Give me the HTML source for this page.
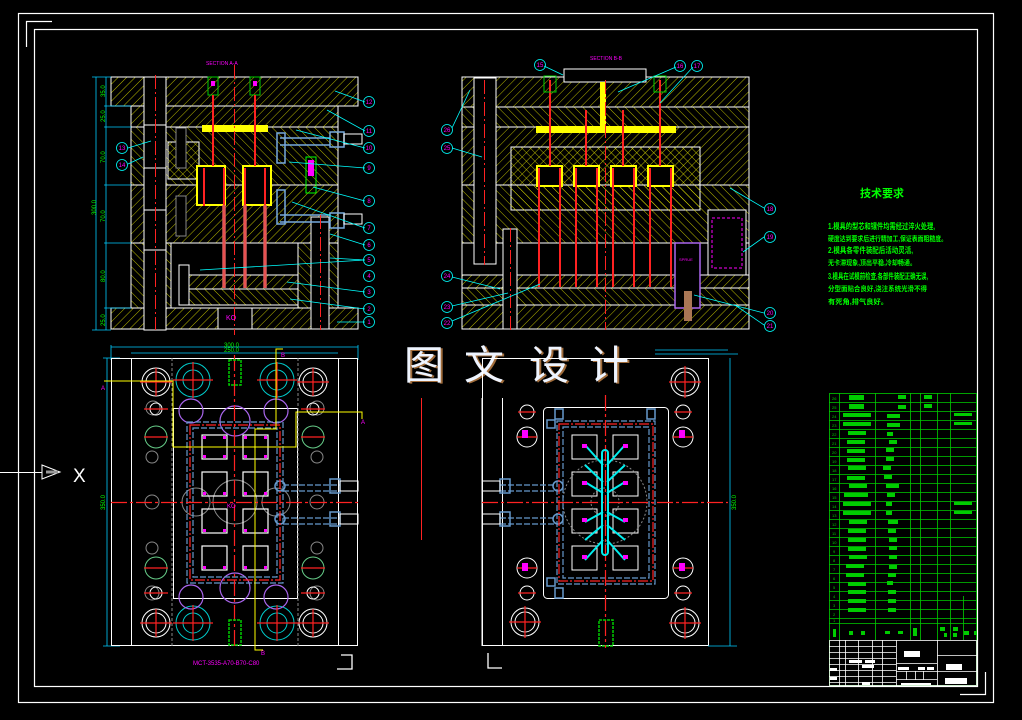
<!DOCTYPE html>
<html><head><meta charset="utf-8">
<style>
html,body{margin:0;padding:0;background:#000;}
svg{display:block;}
text{font-family:"Liberation Sans","Noto Sans CJK SC",sans-serif;}
</style></head>
<body>
<svg width="1022" height="720" viewBox="0 0 1022 720" xmlns="http://www.w3.org/2000/svg">
<defs>
<pattern id="h" width="6" height="6" patternUnits="userSpaceOnUse" patternTransform="rotate(45)">
<line x1="0" y1="0" x2="0" y2="6" stroke="#e8e800" stroke-width="0.8"/>
</pattern>
<pattern id="h2" width="6" height="6" patternUnits="userSpaceOnUse" patternTransform="rotate(-45)">
<line x1="0" y1="0" x2="0" y2="6" stroke="#e8e800" stroke-width="0.8"/>
</pattern>
</defs>
<rect width="1022" height="720" fill="#000"/>
<!-- frames -->
<rect x="18.5" y="13.5" width="975" height="689" fill="none" stroke="#fff" stroke-width="1.2"/>
<rect x="34.5" y="29.5" width="943" height="657" fill="none" stroke="#fff" stroke-width="1.2"/>
<polyline points="26.5,47 26.5,21.5 52,21.5" fill="none" stroke="#fff" stroke-width="1.2"/>
<polyline points="985.5,672 985.5,694.5 960,694.5" fill="none" stroke="#fff" stroke-width="1.2"/>
<!-- X arrow -->
<line x1="0" y1="472.5" x2="42" y2="472.5" stroke="#fff"/>
<polygon points="42,465 60,472 42,479" fill="none" stroke="#fff"/>
<line x1="46" y1="472" x2="58" y2="472" stroke="#999" stroke-width="3"/>
<text x="73" y="482" fill="#fff" font-size="19">X</text>

<!-- ============ TOP LEFT SECTION ============ -->
<text x="206" y="65" fill="#f0f" font-size="5">SECTION A-A</text>
<g stroke="#fff" stroke-width="1">
<rect x="111" y="77" width="247" height="29" fill="url(#h)"/>
<rect x="131" y="106" width="207" height="21" fill="url(#h)"/>
<rect x="131" y="127" width="207" height="58" fill="url(#h2)"/>
<rect x="131" y="185" width="207" height="58" fill="url(#h)"/>
<rect x="131" y="243" width="40" height="65" fill="url(#h2)"/>
<rect x="298" y="243" width="40" height="65" fill="url(#h2)"/>
<rect x="171" y="243" width="127" height="65" fill="#000"/>
<rect x="182" y="275" width="116" height="14" fill="url(#h)"/>
<rect x="182" y="289" width="116" height="16" fill="url(#h2)"/>
<rect x="111" y="308" width="247" height="21" fill="url(#h)"/>
<rect x="218" y="308" width="34" height="21" fill="#000"/>
<rect x="144" y="77" width="22" height="253" fill="#000"/>
<line x1="144" y1="125" x2="166" y2="125"/><line x1="144" y1="168" x2="166" y2="168"/>
<line x1="144" y1="210" x2="166" y2="210"/><line x1="144" y1="250" x2="166" y2="250"/>
<rect x="311" y="217" width="18" height="112" fill="#000"/>
<rect x="168" y="142" width="31" height="37" fill="url(#h)"/>
<rect x="197" y="166" width="28" height="39" fill="#000" stroke="#ff0" stroke-width="2"/>
<rect x="243" y="166" width="28" height="39" fill="#000" stroke="#ff0" stroke-width="2"/>
<rect x="176" y="128" width="10" height="40" fill="#000" stroke="#888"/>
<rect x="176" y="196" width="10" height="40" fill="#000" stroke="#888"/>
<rect x="179" y="265" width="10" height="40" fill="#000"/>
</g>
<rect x="202" y="125" width="66" height="7" fill="#ff0"/>
<rect x="208" y="77" width="10" height="18" fill="none" stroke="#0c0"/>
<rect x="250" y="77" width="10" height="18" fill="none" stroke="#0c0"/>
<rect x="211" y="81" width="4" height="5" fill="#f0f"/><rect x="253" y="81" width="4" height="5" fill="#f0f"/>
<g stroke="#f22" stroke-width="2">
<line x1="213" y1="95" x2="213" y2="166"/><line x1="255" y1="95" x2="255" y2="166"/>
<line x1="204" y1="168" x2="204" y2="206"/><line x1="224" y1="168" x2="224" y2="288"/>
<line x1="245" y1="168" x2="245" y2="288"/><line x1="265" y1="168" x2="265" y2="288"/>
</g>
<g stroke="#d66" stroke-width="4" opacity="0.7">
<line x1="224" y1="205" x2="224" y2="288"/><line x1="245" y1="205" x2="245" y2="288"/><line x1="265" y1="205" x2="265" y2="288"/>
</g>
<g stroke="#7ad" stroke-width="1.5" fill="none">
<rect x="277" y="133" width="8" height="30"/><line x1="280" y1="138" x2="330" y2="138"/><line x1="280" y1="145" x2="330" y2="145"/>
<rect x="277" y="190" width="8" height="34"/><line x1="280" y1="215" x2="330" y2="215"/><line x1="280" y1="222" x2="330" y2="222"/>
<rect x="330" y="132" width="14" height="15"/><rect x="330" y="213" width="14" height="15"/>
</g>
<g stroke="#fff" fill="none"><rect x="344" y="134" width="18" height="10"/><rect x="344" y="214" width="18" height="10"/></g>
<rect x="306" y="157" width="10" height="36" fill="none" stroke="#0f0"/>
<rect x="308" y="160" width="6" height="16" fill="#f0f"/>
<line x1="234.5" y1="65" x2="234.5" y2="335" stroke="#f22" stroke-dasharray="14,3,2,3"/>
<line x1="155.5" y1="75" x2="155.5" y2="330" stroke="#f22" stroke-dasharray="14,3,2,3"/>
<line x1="320.5" y1="215" x2="320.5" y2="330" stroke="#f22" stroke-dasharray="14,3,2,3"/>
<text x="226" y="320" fill="#f0f" font-size="7">KO</text>
<!-- dims -->
<g stroke="#0cf" stroke-width="0.8">
<line x1="96" y1="77" x2="96" y2="330"/>
<line x1="92" y1="77" x2="111" y2="77"/><line x1="104" y1="106" x2="131" y2="106"/><line x1="104" y1="127" x2="131" y2="127"/>
<line x1="104" y1="185" x2="131" y2="185"/><line x1="104" y1="243" x2="131" y2="243"/><line x1="104" y1="308" x2="131" y2="308"/>
<line x1="92" y1="330" x2="111" y2="330"/><line x1="106" y1="77" x2="106" y2="330"/>
</g>
<g fill="#0f0" font-size="6">
<text transform="translate(105,97) rotate(-90)">35.0</text>
<text transform="translate(105,122) rotate(-90)">25.0</text>
<text transform="translate(105,163) rotate(-90)">70.0</text>
<text transform="translate(105,222) rotate(-90)">70.0</text>
<text transform="translate(105,282) rotate(-90)">80.0</text>
<text transform="translate(105,326) rotate(-90)">25.0</text>
<text transform="translate(96,215) rotate(-90)">300.0</text>
</g>
<!-- balloons left section -->
<g stroke="#0ff" stroke-width="0.8" fill="none">
<line x1="335" y1="91" x2="365" y2="102"/><line x1="327" y1="110" x2="365" y2="131"/>
<line x1="296" y1="130" x2="365" y2="148"/><line x1="289" y1="162" x2="365" y2="168"/>
<line x1="313" y1="187" x2="365" y2="201"/><line x1="292" y1="202" x2="365" y2="228"/>
<line x1="330" y1="234" x2="365" y2="245"/><line x1="330" y1="258" x2="365" y2="260"/>
<line x1="200" y1="270" x2="365" y2="260"/><line x1="287" y1="282" x2="365" y2="292"/><line x1="290" y1="299" x2="365" y2="309"/>
<line x1="337" y1="322" x2="365" y2="322"/>
<line x1="151" y1="141" x2="128" y2="148"/><line x1="143" y1="157" x2="128" y2="164"/>
<circle cx="369" cy="102" r="5.5"/><circle cx="369" cy="131" r="5.5"/><circle cx="369" cy="148" r="5.5"/>
<circle cx="369" cy="168" r="5.5"/><circle cx="369" cy="201" r="5.5"/><circle cx="369" cy="228" r="5.5"/>
<circle cx="369" cy="245" r="5.5"/><circle cx="369" cy="260" r="5.5"/><circle cx="369" cy="276" r="5.5"/>
<circle cx="369" cy="292" r="5.5"/><circle cx="369" cy="309" r="5.5"/><circle cx="369" cy="322" r="5.5"/>
<circle cx="122" cy="148" r="5.5"/><circle cx="122" cy="165" r="5.5"/>
</g>
<g fill="#f0f" font-size="6" text-anchor="middle">
<text x="369" y="104">12</text><text x="369" y="133">11</text><text x="369" y="150">10</text><text x="369" y="170">9</text>
<text x="369" y="203">8</text><text x="369" y="230">7</text><text x="369" y="247">6</text><text x="369" y="262">5</text>
<text x="369" y="278">4</text><text x="369" y="294">3</text><text x="369" y="311">2</text><text x="369" y="324">1</text>
<text x="122" y="150">13</text><text x="122" y="167">14</text>
</g>

<!-- ============ TOP RIGHT SECTION ============ -->
<text x="590" y="60" fill="#f0f" font-size="5">SECTION B-B</text>
<g stroke="#fff" stroke-width="1">
<rect x="462" y="77" width="287" height="30" fill="url(#h)"/>
<rect x="462" y="107" width="287" height="20" fill="url(#h2)"/>
<rect x="462" y="127" width="287" height="58" fill="url(#h)"/>
<rect x="511" y="147" width="189" height="63" fill="url(#h2)"/>
<rect x="462" y="185" width="287" height="58" fill="url(#h2)"/>
<rect x="462" y="243" width="287" height="32" fill="#000"/>
<rect x="462" y="275" width="287" height="13" fill="url(#h)"/>
<rect x="462" y="288" width="287" height="17" fill="url(#h2)"/>
<rect x="462" y="305" width="287" height="24" fill="url(#h)"/>
<rect x="564" y="69" width="82" height="13" fill="#000"/>
<rect x="474" y="78" width="22" height="186" fill="#000"/>
<rect x="503" y="229" width="14" height="100" fill="#000"/>
<rect x="708" y="210" width="38" height="65" fill="#000"/>
<rect x="537" y="166" width="25" height="20" fill="#000" stroke="#ff0" stroke-width="2"/>
<rect x="574" y="166" width="25" height="20" fill="#000" stroke="#ff0" stroke-width="2"/>
<rect x="611" y="166" width="25" height="20" fill="#000" stroke="#ff0" stroke-width="2"/>
<rect x="648" y="166" width="25" height="20" fill="#000" stroke="#ff0" stroke-width="2"/>
</g>
<rect x="675" y="243" width="25" height="65" fill="#000" stroke="#a6e" stroke-width="1.5"/>
<text x="679" y="261" fill="#f0f" font-size="4">SPRUE</text>
<rect x="712" y="218" width="30" height="50" fill="none" stroke="#f0f" stroke-dasharray="3,2"/>
<rect x="536" y="126" width="140" height="7" fill="#ff0"/>
<rect x="600" y="82" width="6" height="46" fill="#ff0"/>
<g stroke="#f22" stroke-width="2">
<line x1="550" y1="80" x2="550" y2="166"/><line x1="586" y1="110" x2="586" y2="166"/><line x1="623" y1="110" x2="623" y2="166"/><line x1="660" y1="80" x2="660" y2="166"/>
<line x1="539" y1="168" x2="539" y2="287"/><line x1="560" y1="168" x2="560" y2="287"/>
<line x1="576" y1="168" x2="576" y2="287"/><line x1="597" y1="168" x2="597" y2="287"/>
<line x1="613" y1="168" x2="613" y2="287"/><line x1="634" y1="168" x2="634" y2="287"/>
<line x1="650" y1="168" x2="650" y2="287"/><line x1="671" y1="168" x2="671" y2="287"/>
</g>
<line x1="605.5" y1="80" x2="605.5" y2="330" stroke="#f22" stroke-dasharray="14,3,2,3"/>
<line x1="484.5" y1="80" x2="484.5" y2="265" stroke="#f22" stroke-dasharray="14,3,2,3"/>
<line x1="510.5" y1="228" x2="510.5" y2="330" stroke="#f22" stroke-dasharray="14,3,2,3"/>
<rect x="544" y="76" width="12" height="16" fill="none" stroke="#0c0"/><rect x="654" y="76" width="12" height="16" fill="none" stroke="#0c0"/>
<rect x="684" y="291" width="8" height="30" fill="#a75"/>
<g stroke="#0ff" stroke-width="0.8" fill="none">
<line x1="470" y1="90" x2="452" y2="128"/><line x1="482" y1="157" x2="452" y2="148"/>
<line x1="500" y1="289" x2="452" y2="277"/><line x1="508" y1="293" x2="452" y2="306"/><line x1="540" y1="284" x2="452" y2="321"/>
<line x1="563" y1="75" x2="544" y2="66"/><line x1="618" y1="92" x2="676" y2="67"/><line x1="660" y1="103" x2="693" y2="67"/>
<line x1="730" y1="188" x2="764" y2="208"/><line x1="743" y1="252" x2="764" y2="237"/>
<line x1="694" y1="295" x2="764" y2="313"/><line x1="735" y1="305" x2="764" y2="325"/>
<circle cx="447" cy="130" r="5.5"/><circle cx="447" cy="148" r="5.5"/><circle cx="447" cy="276" r="5.5"/>
<circle cx="447" cy="307" r="5.5"/><circle cx="447" cy="323" r="5.5"/>
<circle cx="540" cy="65" r="5.5"/><circle cx="680" cy="66" r="5.5"/><circle cx="697" cy="66" r="5.5"/>
<circle cx="770" cy="209" r="5.5"/><circle cx="770" cy="237" r="5.5"/><circle cx="770" cy="313" r="5.5"/><circle cx="770" cy="326" r="5.5"/>
</g>
<g fill="#f0f" font-size="6" text-anchor="middle">
<text x="447" y="132">26</text><text x="447" y="150">25</text><text x="447" y="278">24</text><text x="447" y="309">23</text><text x="447" y="325">22</text>
<text x="540" y="67">15</text><text x="680" y="68">16</text><text x="697" y="68">17</text>
<text x="770" y="211">18</text><text x="770" y="239">19</text><text x="770" y="315">20</text><text x="770" y="328">21</text>
</g>

<!-- ============ TECH REQUIREMENTS ============ -->
<g fill="#0f0" font-weight="bold" font-family="'Liberation Sans','Noto Sans CJK SC',sans-serif">
<text x="860" y="197" font-size="11">技术要求</text>
<text x="828" y="229" font-size="8" textLength="107" lengthAdjust="spacingAndGlyphs">1.模具的型芯和镶件均需经过淬火处理,</text>
<text x="828" y="241" font-size="7" textLength="119" lengthAdjust="spacingAndGlyphs">硬度达到要求后进行精加工,保证表面粗糙度。</text>
<text x="828" y="253" font-size="8" textLength="85" lengthAdjust="spacingAndGlyphs">2.模具各零件装配后活动灵活,</text>
<text x="828" y="265" font-size="7" textLength="88" lengthAdjust="spacingAndGlyphs">无卡滞现象,顶出平稳,冷却畅通。</text>
<text x="828" y="279" font-size="8" textLength="100" lengthAdjust="spacingAndGlyphs">3.模具在试模前检查,各部件装配正确无误,</text>
<text x="828" y="291" font-size="7" textLength="99" lengthAdjust="spacingAndGlyphs">分型面贴合良好,浇注系统光滑不得</text>
<text x="828" y="304" font-size="7" textLength="60" lengthAdjust="spacingAndGlyphs">有死角,排气良好。</text>
</g>

<!-- ============ WATERMARK ============ -->
<g font-family="'Noto Serif CJK SC','Liberation Serif',serif" font-size="40">
<text x="406" y="380" fill="#c8884a" opacity="0.8">图</text><text x="466" y="380" fill="#c8884a" opacity="0.8">文</text>
<text x="531" y="380" fill="#c8884a" opacity="0.8">设</text><text x="591" y="380" fill="#c8884a" opacity="0.8">计</text>
<text x="404" y="379" fill="#eef4ff">图</text><text x="464" y="379" fill="#eef4ff">文</text>
<text x="529" y="379" fill="#eef4ff">设</text><text x="589" y="379" fill="#eef4ff">计</text>
</g>

<!-- ============ BOTTOM LEFT PLAN ============ -->
<g stroke="#0cf" stroke-width="0.8" fill="none">
<line x1="111" y1="347" x2="358" y2="347"/><line x1="131" y1="353" x2="338" y2="353"/>
<line x1="111" y1="345" x2="111" y2="360"/><line x1="358" y1="345" x2="358" y2="360"/>
<line x1="107" y1="358" x2="107" y2="646"/><line x1="103" y1="358" x2="120" y2="358"/><line x1="103" y1="646" x2="120" y2="646"/>
</g>
<text x="224" y="347" fill="#0f0" font-size="6">300.0</text><text x="224" y="352" fill="#0f0" font-size="6">250.0</text>
<text transform="translate(105,510) rotate(-90)" fill="#0f0" font-size="6">350.0</text>
<g stroke="#fff" fill="none" stroke-width="1">
<rect x="111.5" y="358.5" width="246" height="287"/>
<line x1="131.5" y1="358" x2="131.5" y2="646"/><line x1="338.5" y1="358" x2="338.5" y2="646"/>
<rect x="173.5" y="408.5" width="124" height="190"/>
<circle cx="156" cy="382" r="14"/><circle cx="156" cy="382" r="10"/>
<circle cx="313" cy="382" r="14"/><circle cx="313" cy="382" r="10"/>
<circle cx="156" cy="623" r="14"/><circle cx="156" cy="623" r="10"/>
<circle cx="313" cy="623" r="14"/><circle cx="313" cy="623" r="10"/>
</g>
<g stroke="#888" fill="none" stroke-dasharray="3,2"><line x1="172" y1="358" x2="172" y2="646"/><line x1="298" y1="358" x2="298" y2="646"/></g>
<g stroke="#0cc" fill="none" stroke-width="1">
<circle cx="193" cy="380" r="17"/><circle cx="193" cy="380" r="10"/>
<circle cx="277" cy="380" r="17"/><circle cx="277" cy="380" r="10"/>
<circle cx="193" cy="623" r="17"/><circle cx="193" cy="623" r="10"/>
<circle cx="277" cy="623" r="17"/><circle cx="277" cy="623" r="10"/>
</g>
<g stroke="#a6e" fill="none" stroke-width="1.2">
<circle cx="191" cy="411" r="12"/><circle cx="276" cy="411" r="12"/><circle cx="191" cy="597" r="12"/><circle cx="276" cy="597" r="12"/>
<circle cx="235" cy="421" r="15"/><circle cx="235" cy="588" r="15"/>
</g>
<g stroke="#888" fill="none">
<circle cx="153" cy="408" r="7"/><circle cx="152" cy="457" r="6"/><circle cx="152" cy="502" r="7"/><circle cx="152" cy="548" r="6"/><circle cx="152" cy="593" r="7"/>
<circle cx="317" cy="408" r="7"/><circle cx="317" cy="457" r="6"/><circle cx="317" cy="502" r="7"/><circle cx="317" cy="548" r="6"/><circle cx="317" cy="593" r="7"/>
<circle cx="196" cy="502" r="14"/><circle cx="276" cy="502" r="14"/><circle cx="235" cy="502" r="22"/>
</g>
<g stroke="#6c8" fill="none"><circle cx="156" cy="437" r="11"/><circle cx="313" cy="437" r="11"/><circle cx="156" cy="568" r="11"/><circle cx="313" cy="568" r="11"/></g>
<g stroke="#fff" fill="none"><circle cx="156" cy="409" r="6"/><circle cx="313" cy="409" r="6"/><circle cx="156" cy="593" r="6"/><circle cx="313" cy="593" r="6"/></g>
<g stroke="#69c" fill="none" stroke-width="1.2" stroke-dasharray="6,2">
<rect x="187" y="422" width="96" height="161"/><rect x="193" y="428" width="84" height="149"/>
<line x1="283" y1="485" x2="340" y2="485"/><line x1="283" y1="491" x2="340" y2="491"/>
<line x1="283" y1="518" x2="340" y2="518"/><line x1="283" y1="524" x2="340" y2="524"/>
</g>
<g stroke="#69c" fill="none" stroke-width="1.5"><circle cx="280" cy="486" r="5"/><circle cx="280" cy="519" r="5"/>
<rect x="330" y="479" width="10" height="14"/><rect x="330" y="512" width="10" height="14"/></g>
<g stroke="#fff" fill="none"><rect x="340" y="481" width="18" height="10"/><rect x="340" y="514" width="18" height="10"/></g>
<g stroke="#f22" stroke-width="1.2" fill="none">
<rect x="190" y="425" width="90" height="155" stroke-dasharray="10,2,2,2"/>
<line x1="111" y1="502.5" x2="358" y2="502.5" stroke-dasharray="16,3,3,3"/>
<line x1="234.5" y1="355" x2="234.5" y2="648" stroke-dasharray="16,3,3,3"/>
<line x1="140" y1="382" x2="172" y2="382"/><line x1="156" y1="368" x2="156" y2="396"/>
<line x1="297" y1="382" x2="329" y2="382"/><line x1="313" y1="368" x2="313" y2="396"/>
<line x1="140" y1="623" x2="172" y2="623"/><line x1="156" y1="609" x2="156" y2="637"/>
<line x1="297" y1="623" x2="329" y2="623"/><line x1="313" y1="609" x2="313" y2="637"/>
<line x1="173" y1="380" x2="213" y2="380"/><line x1="193" y1="362" x2="193" y2="398"/>
<line x1="257" y1="380" x2="297" y2="380"/><line x1="277" y1="362" x2="277" y2="398"/>
<line x1="173" y1="623" x2="213" y2="623"/><line x1="193" y1="605" x2="193" y2="641"/>
<line x1="257" y1="623" x2="297" y2="623"/><line x1="277" y1="605" x2="277" y2="641"/>
<line x1="144" y1="409" x2="168" y2="409"/><line x1="301" y1="409" x2="325" y2="409"/>
<line x1="144" y1="593" x2="168" y2="593"/><line x1="301" y1="593" x2="325" y2="593"/>
<line x1="144" y1="437" x2="168" y2="437"/><line x1="301" y1="437" x2="325" y2="437"/>
<line x1="144" y1="568" x2="168" y2="568"/><line x1="301" y1="568" x2="325" y2="568"/>
</g>
<g stroke="#fff" fill="none" stroke-width="1.2">
<rect x="202" y="435" width="25" height="24"/><rect x="243" y="435" width="25" height="24"/>
<rect x="202" y="472" width="25" height="24"/><rect x="243" y="472" width="25" height="24"/>
<rect x="202" y="509" width="25" height="24"/><rect x="243" y="509" width="25" height="24"/>
<rect x="202" y="546" width="25" height="24"/><rect x="243" y="546" width="25" height="24"/>
</g>
<g fill="#f0f">
<rect x="203" y="436" width="3" height="3"/><rect x="223" y="436" width="3" height="3"/><rect x="203" y="455" width="3" height="3"/><rect x="223" y="455" width="3" height="3"/>
<rect x="244" y="436" width="3" height="3"/><rect x="264" y="436" width="3" height="3"/><rect x="244" y="455" width="3" height="3"/><rect x="264" y="455" width="3" height="3"/>
<rect x="203" y="492" width="3" height="3"/><rect x="223" y="492" width="3" height="3"/><rect x="244" y="492" width="3" height="3"/><rect x="264" y="492" width="3" height="3"/>
<rect x="203" y="529" width="3" height="3"/><rect x="223" y="529" width="3" height="3"/><rect x="244" y="529" width="3" height="3"/><rect x="264" y="529" width="3" height="3"/>
<rect x="203" y="566" width="3" height="3"/><rect x="223" y="566" width="3" height="3"/><rect x="244" y="566" width="3" height="3"/><rect x="264" y="566" width="3" height="3"/>
</g>
<g stroke="#0c0" fill="none" stroke-width="1.5" stroke-dasharray="3,1"><rect x="229" y="360" width="12" height="25"/><rect x="229" y="620" width="12" height="25"/></g>
<g stroke="#ff0" fill="none" stroke-width="1">
<polyline points="104,381 173,381 173,447 296,447 296,412 362,412 362,419"/>
<polyline points="283,349 276,349 276,429 255,429 255,430 255,650 263,650"/>
</g>
<g fill="#f0f" font-size="6"><text x="101" y="390">A</text><text x="361" y="424">A</text><text x="281" y="357">B</text><text x="261" y="655">B</text><text x="227" y="508">KO</text></g>
<text x="193" y="665" fill="#f0f" font-size="6">MCT-3535-A70-B70-C80</text>
<polyline points="341,655 352,655 352,669 337,669" fill="none" stroke="#fff" stroke-width="1.3"/>

<!-- ============ BOTTOM RIGHT PLAN ============ -->
<g stroke="#fff" fill="none" stroke-width="1">
<rect x="482.5" y="358.5" width="226" height="287"/>
<line x1="502.5" y1="398" x2="502.5" y2="646"/>
<line x1="482" y1="398" x2="482" y2="646"/>
<rect x="543.5" y="407.5" width="125" height="191" rx="4"/>
<circle cx="685" cy="382" r="14"/><circle cx="685" cy="382" r="10"/>
<circle cx="685" cy="623" r="14"/><circle cx="685" cy="623" r="10"/>
<circle cx="525" cy="622" r="14"/><circle cx="525" cy="622" r="10"/>
<circle cx="527" cy="437" r="10"/><circle cx="683" cy="437" r="10"/><circle cx="527" cy="568" r="10"/><circle cx="683" cy="568" r="10"/>
<circle cx="527" cy="412" r="7"/><circle cx="683" cy="412" r="7"/><circle cx="527" cy="593" r="7"/><circle cx="683" cy="593" r="7"/>
<rect x="572" y="435" width="25" height="24"/><rect x="613" y="435" width="25" height="24"/>
<rect x="572" y="472" width="25" height="24"/><rect x="613" y="472" width="25" height="24"/>
<rect x="572" y="509" width="25" height="24"/><rect x="613" y="509" width="25" height="24"/>
<rect x="572" y="546" width="25" height="24"/><rect x="613" y="546" width="25" height="24"/>
</g>
<g stroke="#0cf" fill="none" stroke-width="0.8"><line x1="655" y1="350" x2="728" y2="350"/><line x1="655" y1="354" x2="738" y2="354"/><line x1="730" y1="358" x2="730" y2="646"/><line x1="708" y1="646" x2="737" y2="646"/></g>
<text transform="translate(736,510) rotate(-90)" fill="#0f0" font-size="6">350.0</text>
<g stroke="#888" fill="none" stroke-dasharray="2,2"><circle cx="605" cy="502" r="42"/><circle cx="605" cy="502" r="14"/></g>
<g stroke="#69c" fill="none" stroke-width="1.2" stroke-dasharray="6,2">
<rect x="557" y="421" width="98" height="163"/><rect x="563" y="427" width="86" height="151"/>
<line x1="500" y1="485" x2="556" y2="485"/><line x1="500" y1="491" x2="556" y2="491"/>
<line x1="500" y1="518" x2="556" y2="518"/><line x1="500" y1="524" x2="556" y2="524"/>
</g>
<g stroke="#69c" fill="none" stroke-width="1.5"><circle cx="558" cy="486" r="5"/><circle cx="558" cy="519" r="5"/>
<rect x="500" y="479" width="10" height="14"/><rect x="500" y="512" width="10" height="14"/>
<rect x="555" y="409" width="8" height="10"/><rect x="647" y="409" width="8" height="10"/><rect x="555" y="588" width="8" height="10"/><rect x="547" y="420" width="8" height="8"/><rect x="547" y="578" width="8" height="8"/></g>
<g stroke="#fff" fill="none"><rect x="482" y="481" width="18" height="10"/><rect x="482" y="514" width="18" height="10"/></g>
<g stroke="#f22" stroke-width="1.2" fill="none">
<rect x="559" y="424" width="94" height="157" stroke-dasharray="10,2,2,2"/>
<line x1="482" y1="502.5" x2="728" y2="502.5" stroke-dasharray="16,3,3,3"/>
<line x1="605.5" y1="395" x2="605.5" y2="648" stroke-dasharray="16,3,3,3"/>
<line x1="669" y1="382" x2="701" y2="382"/><line x1="685" y1="366" x2="685" y2="398"/>
<line x1="669" y1="623" x2="701" y2="623"/><line x1="685" y1="607" x2="685" y2="639"/>
<line x1="509" y1="622" x2="541" y2="622"/><line x1="525" y1="606" x2="525" y2="638"/>
<line x1="517" y1="437" x2="537" y2="437"/><line x1="673" y1="437" x2="693" y2="437"/>
<line x1="517" y1="568" x2="537" y2="568"/><line x1="673" y1="568" x2="693" y2="568"/>
<line x1="518" y1="412" x2="536" y2="412"/><line x1="674" y1="412" x2="692" y2="412"/>
<line x1="518" y1="593" x2="536" y2="593"/><line x1="674" y1="593" x2="692" y2="593"/>
</g>
<g stroke="#0ee" fill="none" stroke-width="2">
<rect x="602" y="450" width="6" height="105" rx="3"/>
<line x1="585" y1="445" x2="603" y2="465"/><line x1="625" y1="445" x2="607" y2="465"/>
<line x1="585" y1="482" x2="603" y2="493"/><line x1="625" y1="482" x2="607" y2="493"/>
<line x1="585" y1="522" x2="603" y2="512"/><line x1="625" y1="522" x2="607" y2="512"/>
<line x1="585" y1="560" x2="603" y2="540"/><line x1="625" y1="560" x2="607" y2="540"/>
<line x1="585" y1="465" x2="603" y2="482"/><line x1="625" y1="465" x2="607" y2="482"/>
<line x1="585" y1="540" x2="603" y2="525"/><line x1="625" y1="540" x2="607" y2="525"/>
</g>
<g fill="#f0f"><rect x="582" y="444" width="5" height="4"/><rect x="623" y="444" width="5" height="4"/><rect x="582" y="481" width="5" height="4"/><rect x="623" y="481" width="5" height="4"/>
<rect x="582" y="518" width="5" height="4"/><rect x="623" y="518" width="5" height="4"/><rect x="582" y="555" width="5" height="4"/><rect x="623" y="555" width="5" height="4"/>
<rect x="522" y="430" width="6" height="8"/><rect x="679" y="430" width="6" height="8"/><rect x="522" y="563" width="6" height="8"/><rect x="679" y="563" width="6" height="8"/></g>
<rect x="599" y="620" width="14" height="26" fill="none" stroke="#0c0" stroke-width="1.5" stroke-dasharray="3,1"/>
<polyline points="488,653 488,668 502,668" fill="none" stroke="#fff" stroke-width="1.3"/>
<line x1="421.5" y1="398" x2="421.5" y2="540" stroke="#f22"/>

<!-- ============ TABLE ============ -->
<g stroke="#0c0" stroke-width="0.8" fill="none">
<rect x="829.5" y="393.5" width="147" height="292"/>
<line x1="839.5" y1="393" x2="839.5" y2="640"/><line x1="875.5" y1="393" x2="875.5" y2="640"/>
<line x1="910.5" y1="393" x2="910.5" y2="640"/><line x1="920.5" y1="393" x2="920.5" y2="640"/>
<line x1="937.5" y1="393" x2="937.5" y2="640"/><line x1="950.5" y1="393" x2="950.5" y2="640"/>
<line x1="963.5" y1="596" x2="963.5" y2="640"/>
<path d="M829 402.5H977M829 411.5H977M829 420.5H977M829 429.5H977M829 438.5H977M829 447.5H977M829 456.5H977M829 465.5H977M829 474.5H977M829 483.5H977M829 492.5H977M829 501.5H977M829 510.5H977M829 519.5H977M829 528.5H977M829 537.5H977M829 546.5H977M829 555.5H977M829 564.5H977M829 573.5H977M829 582.5H977M829 591.5H977M829 600.5H977M829 609.5H977M829 618.5H977M829 623.5H977"/>
</g>
<g fill="#0c0">
<rect x="849" y="395" width="15" height="5"/><rect x="898" y="395" width="8" height="4"/><rect x="924" y="395" width="8" height="4"/>
<rect x="849" y="404" width="15" height="5"/><rect x="898" y="405" width="8" height="4"/><rect x="924" y="404" width="8" height="4"/>
<rect x="843" y="413" width="28" height="4"/><rect x="887" y="414" width="13" height="4"/><rect x="954" y="413" width="18" height="3"/>
<rect x="843" y="422" width="28" height="4"/><rect x="887" y="423" width="13" height="4"/><rect x="954" y="422" width="18" height="3"/>
<rect x="848" y="431" width="18" height="4"/><rect x="887" y="432" width="6" height="4"/>
<rect x="847" y="440" width="18" height="4"/><rect x="889" y="440" width="8" height="4"/>
<rect x="847" y="449" width="18" height="4"/><rect x="886" y="448" width="8" height="4"/>
<rect x="847" y="458" width="18" height="4"/><rect x="886" y="457" width="8" height="4"/>
<rect x="848" y="466" width="18" height="4"/><rect x="883" y="466" width="8" height="4"/>
<rect x="847" y="476" width="18" height="4"/><rect x="884" y="475" width="8" height="4"/>
<rect x="849" y="484" width="18" height="4"/><rect x="886" y="484" width="13" height="4"/>
<rect x="844" y="493" width="24" height="4"/><rect x="887" y="493" width="8" height="4"/>
<rect x="843" y="502" width="28" height="4"/><rect x="886" y="502" width="6" height="4"/><rect x="954" y="502" width="18" height="3"/>
<rect x="843" y="511" width="28" height="4"/><rect x="886" y="511" width="6" height="4"/><rect x="954" y="511" width="18" height="3"/>
<rect x="849" y="520" width="18" height="4"/><rect x="888" y="520" width="10" height="4"/>
<rect x="848" y="529" width="18" height="4"/><rect x="888" y="529" width="8" height="4"/>
<rect x="848" y="538" width="18" height="4"/><rect x="889" y="538" width="8" height="4"/>
<rect x="848" y="547" width="18" height="4"/><rect x="889" y="546" width="8" height="4"/>
<rect x="849" y="555" width="18" height="4"/><rect x="889" y="555" width="8" height="4"/>
<rect x="846" y="564" width="18" height="4"/><rect x="889" y="565" width="8" height="4"/>
<rect x="846" y="573" width="18" height="4"/><rect x="888" y="573" width="8" height="4"/>
<rect x="848" y="582" width="18" height="4"/><rect x="887" y="581" width="6" height="4"/>
<rect x="848" y="590" width="18" height="4"/><rect x="888" y="590" width="8" height="4"/>
<rect x="848" y="599" width="18" height="4"/><rect x="888" y="599" width="8" height="4"/>
<rect x="848" y="608" width="18" height="4"/><rect x="888" y="608" width="8" height="4"/>
<rect x="833" y="629" width="3" height="8"/><rect x="849" y="631" width="4" height="4"/><rect x="861" y="631" width="4" height="4"/>
<rect x="885" y="631" width="5" height="3"/><rect x="898" y="631" width="5" height="3"/><rect x="913" y="628" width="4" height="8"/>
<rect x="940" y="627" width="5" height="4"/><rect x="953" y="627" width="5" height="4"/><rect x="944" y="633" width="3" height="4"/><rect x="953" y="633" width="4" height="4"/>
<rect x="964" y="631" width="5" height="4"/><rect x="974" y="631" width="3" height="4"/>
</g>
<g fill="#0c0" font-size="4">
<text x="832" y="400">26</text><text x="832" y="409">25</text><text x="832" y="418">24</text><text x="832" y="427">23</text>
<text x="832" y="436">22</text><text x="832" y="445">21</text><text x="832" y="454">20</text><text x="832" y="463">19</text>
<text x="832" y="472">18</text><text x="832" y="481">17</text><text x="832" y="490">16</text><text x="832" y="499">15</text>
<text x="832" y="508">14</text><text x="832" y="517">13</text><text x="832" y="526">12</text><text x="832" y="535">11</text>
<text x="832" y="544">10</text><text x="833" y="553">9</text><text x="833" y="562">8</text><text x="833" y="571">7</text>
<text x="833" y="580">6</text><text x="833" y="589">5</text><text x="833" y="598">4</text><text x="833" y="607">3</text>
<text x="833" y="616">2</text><text x="833" y="622">1</text>
</g>
<g stroke="#fff" stroke-width="0.8" fill="none">
<rect x="829.5" y="640.5" width="147" height="45"/>
<line x1="896.5" y1="640" x2="896.5" y2="686"/><line x1="937.5" y1="640" x2="937.5" y2="686"/>
<line x1="937" y1="655.5" x2="977" y2="655.5"/><line x1="937" y1="671.5" x2="977" y2="671.5"/>
<line x1="896" y1="663.5" x2="937" y2="663.5"/><line x1="896" y1="671.5" x2="937" y2="671.5"/><line x1="896" y1="679.5" x2="937" y2="679.5"/>
<path d="M829 646.5H896M829 652.5H896M829 658.5H896M829 664.5H896M829 670.5H896M829 676.5H896M829 682.5H896"/>
<path d="M839.5 640V686M845.5 640V686M858.5 640V686M872.5 640V686M882.5 640V686"/>
<path d="M906.5 671V680M915.5 671V680M923.5 671V680"/>
</g>
<g fill="#fff">
<rect x="904" y="651" width="16" height="6"/><rect x="946" y="664" width="16" height="6"/><rect x="945" y="678" width="22" height="6"/>
<rect x="898" y="667" width="11" height="3"/><rect x="918" y="667" width="7" height="3"/><rect x="927" y="667" width="7" height="3"/>
<rect x="901" y="683" width="30" height="2"/><rect x="849" y="660" width="13" height="3"/><rect x="865" y="660" width="10" height="3"/>
<rect x="830" y="668" width="7" height="3"/><rect x="862" y="665" width="12" height="3"/><rect x="830" y="677" width="7" height="3"/><rect x="862" y="682" width="8" height="3"/>
</g>
</svg>
</body></html>
